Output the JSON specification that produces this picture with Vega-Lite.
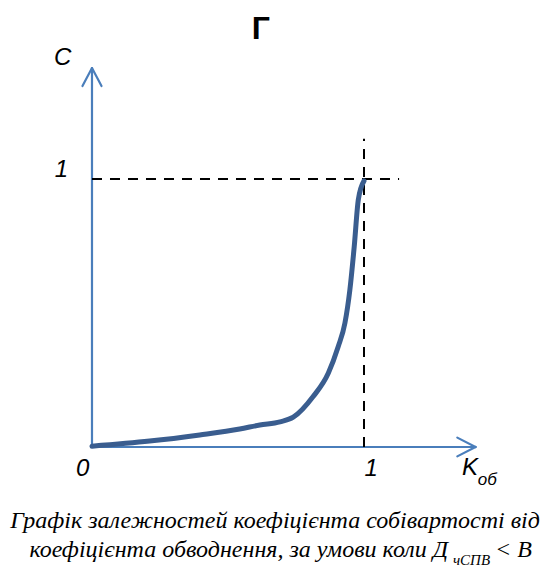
{
  "$schema": "https://vega.github.io/schema/vega-lite/v6.json",
  "width": 546,
  "height": 567,
  "padding": 0,
  "autosize": {"type": "none"},
  "background": "white",
  "config": {"view": {"stroke": null}},
  "datasets": {
    "curve": [
      {"k": 0.0, "c": 0.003},
      {"k": 0.212, "c": 0.022},
      {"k": 0.396, "c": 0.045},
      {"k": 0.543, "c": 0.067},
      {"k": 0.617, "c": 0.082},
      {"k": 0.691, "c": 0.094},
      {"k": 0.74, "c": 0.111},
      {"k": 0.813, "c": 0.188},
      {"k": 0.869, "c": 0.276},
      {"k": 0.905, "c": 0.374},
      {"k": 0.93, "c": 0.463},
      {"k": 0.948, "c": 0.586},
      {"k": 0.964, "c": 0.747},
      {"k": 0.979, "c": 0.922},
      {"k": 1.0, "c": 0.993}
    ],
    "axes": [
      {"x": 0, "y": 0, "x2": 1.41, "y2": 0},
      {"x": 0, "y": 0, "x2": 0, "y2": 1.414},
      {"x": 1.41, "y": 0, "x2": 1.343, "y2": 0.035},
      {"x": 1.41, "y": 0, "x2": 1.343, "y2": -0.035},
      {"x": 0, "y": 1.414, "x2": -0.035, "y2": 1.347},
      {"x": 0, "y": 1.414, "x2": 0.035, "y2": 1.347}
    ],
    "dashes": [
      {"x": 0, "y": 1, "x2": 1.129, "y2": 1},
      {"x": 1, "y": 0, "x2": 1, "y2": 1.15}
    ],
    "labels": [
      {"x": -0.108, "y": 1.425, "t": "C"},
      {"x": -0.112, "y": 1.007, "t": "1"},
      {"x": -0.034, "y": -0.108, "t": "0"},
      {"x": 1.026, "y": -0.108, "t": "1"},
      {"x": 1.39, "y": -0.104, "t": "K"}
    ]
  },
  "layer": [
    {
      "data": {"name": "axes"},
      "mark": {"type": "rule", "color": "#4a7ebb", "strokeWidth": 2.2, "strokeCap": "round"},
      "encoding": {
        "x": {"field": "x", "type": "quantitative", "scale": {"domain": [-0.3382, 1.6691], "nice": false, "zero": false}, "axis": null},
        "y": {"field": "y", "type": "quantitative", "scale": {"domain": [-0.4478, 1.6679], "nice": false, "zero": false}, "axis": null},
        "x2": {"field": "x2"},
        "y2": {"field": "y2"}
      }
    },
    {
      "data": {"name": "dashes"},
      "mark": {"type": "rule", "color": "black", "strokeWidth": 2, "strokeDash": [10, 8]},
      "encoding": {
        "x": {"field": "x", "type": "quantitative"},
        "y": {"field": "y", "type": "quantitative"},
        "x2": {"field": "x2"},
        "y2": {"field": "y2"}
      }
    },
    {
      "data": {"name": "curve"},
      "mark": {"type": "line", "color": "#3a5d8f", "strokeWidth": 5, "interpolate": "monotone", "strokeCap": "round"},
      "encoding": {
        "x": {"field": "k", "type": "quantitative"},
        "y": {"field": "c", "type": "quantitative"}
      }
    },
    {
      "data": {"name": "labels"},
      "mark": {"type": "text", "font": "Liberation Sans", "fontSize": 24, "fontStyle": "italic", "align": "center", "baseline": "alphabetic", "color": "black"},
      "encoding": {
        "x": {"field": "x", "type": "quantitative"},
        "y": {"field": "y", "type": "quantitative"},
        "text": {"field": "t"}
      }
    },
    {
      "data": {"values": [{"x": 1.418, "y": -0.142, "t": "об"}]},
      "mark": {"type": "text", "font": "Liberation Sans", "fontSize": 17, "fontStyle": "italic", "align": "left", "baseline": "alphabetic", "color": "black"},
      "encoding": {
        "x": {"field": "x", "type": "quantitative"},
        "y": {"field": "y", "type": "quantitative"},
        "text": {"field": "t"}
      }
    },
    {
      "data": {"values": [{"x": 0.621, "y": 1.522, "t": "Г"}]},
      "mark": {"type": "text", "font": "Liberation Sans", "fontSize": 32, "fontWeight": "bold", "align": "center", "baseline": "alphabetic", "color": "black"},
      "encoding": {
        "x": {"field": "x", "type": "quantitative"},
        "y": {"field": "y", "type": "quantitative"},
        "text": {"field": "t"}
      }
    },
    {
      "data": {"values": [{"x": 0.673, "y": -0.302, "t": "Графік залежностей коефіцієнта собівартості від"}]},
      "mark": {"type": "text", "font": "Times New Roman", "fontSize": 24, "fontStyle": "italic", "align": "center", "baseline": "alphabetic", "color": "black"},
      "encoding": {
        "x": {"field": "x", "type": "quantitative"},
        "y": {"field": "y", "type": "quantitative"},
        "text": {"field": "t"}
      }
    },
    {
      "data": {"values": [{"x": 1.309, "y": -0.41, "t": "коефіцієнта обводнення, за умови коли Д"}]},
      "mark": {"type": "text", "font": "Times New Roman", "fontSize": 24, "fontStyle": "italic", "align": "right", "baseline": "alphabetic", "color": "black"},
      "encoding": {
        "x": {"field": "x", "type": "quantitative"},
        "y": {"field": "y", "type": "quantitative"},
        "text": {"field": "t"}
      }
    },
    {
      "data": {"values": [{"x": 1.327, "y": -0.44, "t": "чСПВ"}]},
      "mark": {"type": "text", "font": "Times New Roman", "fontSize": 15, "fontStyle": "italic", "align": "left", "baseline": "alphabetic", "color": "black"},
      "encoding": {
        "x": {"field": "x", "type": "quantitative"},
        "y": {"field": "y", "type": "quantitative"},
        "text": {"field": "t"}
      }
    },
    {
      "data": {"values": [{"x": 1.482, "y": -0.41, "t": "< В"}]},
      "mark": {"type": "text", "font": "Times New Roman", "fontSize": 24, "fontStyle": "italic", "align": "left", "baseline": "alphabetic", "color": "black"},
      "encoding": {
        "x": {"field": "x", "type": "quantitative"},
        "y": {"field": "y", "type": "quantitative"},
        "text": {"field": "t"}
      }
    }
  ]
}
